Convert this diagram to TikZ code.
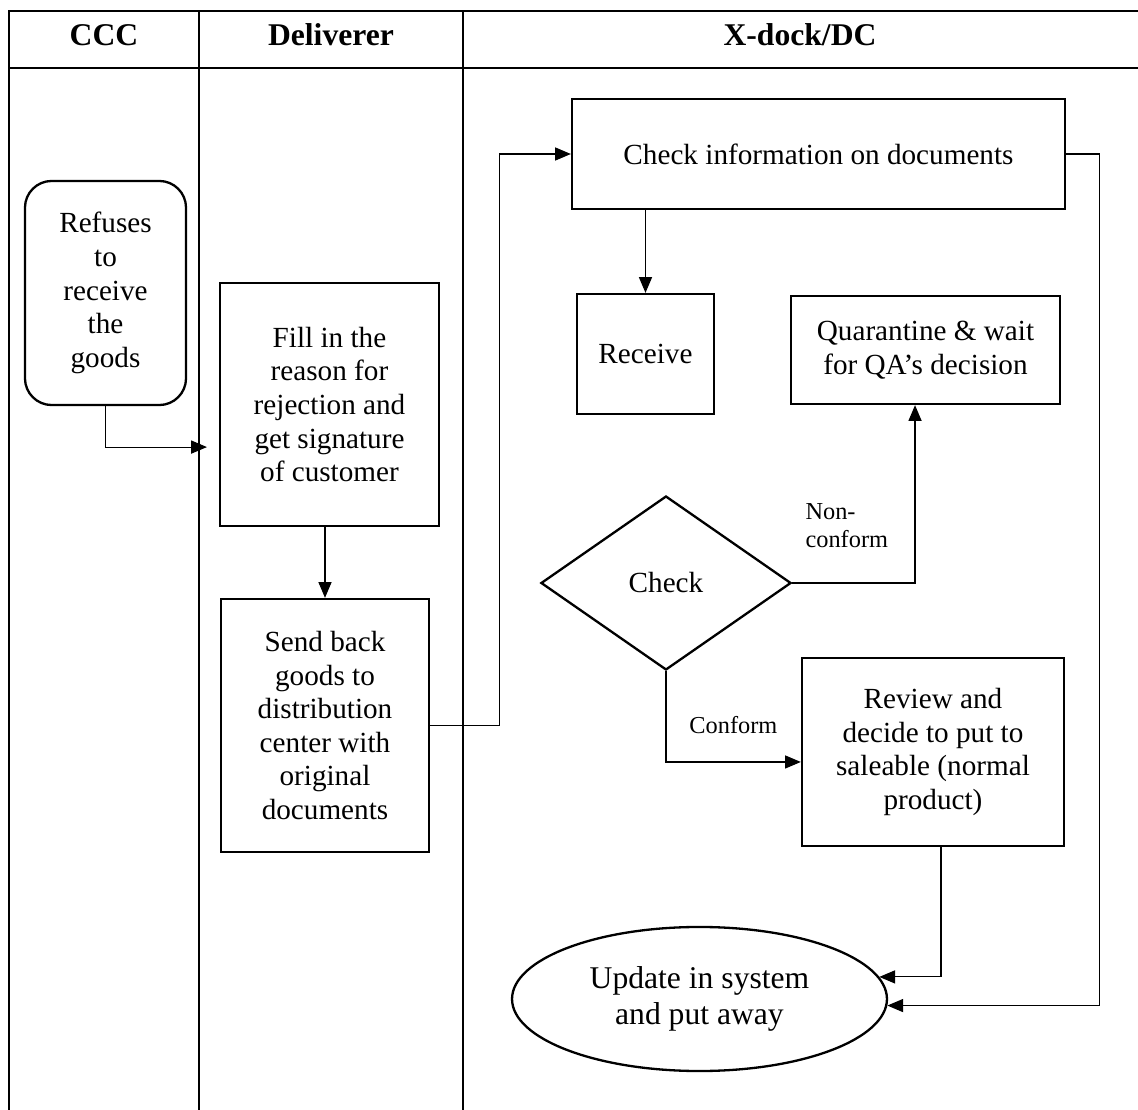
\documentclass[tikz,border=0pt]{standalone}
\usepackage{fontspec}
\setmainfont{Liberation Serif}
\usetikzlibrary{shapes.geometric, arrows.meta, positioning, calc}
\tikzstyle{lane} = [line width=0.8pt]
\tikzstyle{header} = [font=\fontsize{13}{15}\selectfont\bfseries, anchor=base]
\tikzstyle{process} = [rectangle, draw=black, line width=0.95pt, align=center, inner sep=0pt, font=\fontsize{12}{13.8}\selectfont]
\tikzstyle{decision} = [diamond, draw=black, line width=0.95pt, minimum width=102.8pt, minimum height=71.5pt, inner sep=0pt, font=\fontsize{12}{13.8}\selectfont]
\tikzstyle{terminal} = [ellipse, draw=black, line width=0.95pt, minimum width=154.1pt, minimum height=59.2pt, inner sep=0pt, align=center, font=\fontsize{13}{15}\selectfont]
\tikzstyle{lbl} = [font=\fontsize{10}{11.5}\selectfont, align=left]
\tikzstyle{arrow} = [line width=0.45pt, -{Triangle[length=6.5pt,width=5.4pt]}]

\begin{document}
\begin{tikzpicture}[x=0.411pt, y=-0.411pt]
    \useasboundingbox (0,0) rectangle (1138,1110);
    % Lanes
    \draw[lane] (9,1110) -- (9,11) -- (1138,11);
    \draw[lane] (9,68) -- (1138,68);
    \draw[lane] (199,11) -- (199,1110);
    \draw[lane] (463,11) -- (463,1110);
    \node[header] (ccc) at (104,46) {CCC};
    \node[header] (deliverer) at (331,46) {Deliverer};
    \node[header] (xdock) at (800,46) {X-dock/DC};
    
    % Steps
    \node[process, rounded corners=11pt, minimum width=66.2pt, minimum height=92.1pt] (refuse) at (105.5,293) {Refuses\\to\\receive\\the\\goods};
    \node[process, minimum width=90pt, minimum height=99.9pt] (fill) at (329.5,404.5) {Fill in the\\reason for\\rejection and\\get signature\\of customer};
    \node[process, minimum width=85.5pt, minimum height=104pt] (send) at (325,725.5) {Send back\\goods to\\distribution\\center with\\original\\documents};
    \node[process, minimum width=202.6pt, minimum height=45.2pt] (check) at (818.5,154) {Check information on documents};
    \node[process, minimum width=56.3pt, minimum height=49.3pt] (receive) at (645.5,354) {Receive};
    \node[process, minimum width=110.6pt, minimum height=44.4pt] (quarantine) at (925.5,350) {Quarantine \& wait\\for QA’s decision};
    \node[decision] (verify) at (666,583) {Check};
    \node[process, minimum width=107.7pt, minimum height=77.3pt] (review) at (933,752) {Review and\\decide to put to\\saleable (normal\\product)};
    \node[terminal] (update) at (699.5,999) {Update in system\\and put away};
    \node[lbl, anchor=west] (nonconform) at (797,526) {Non-\\conform};
    
    % Connections
    \draw[arrow] (refuse.south) |- ([xshift=-4.9pt, yshift=-17.5pt]fill.west);
    \draw[arrow] (fill.south -| send.north) -- (send.north);
    \draw[arrow] (send.east) -- ++(69,0) |- (check.west);
    \draw[arrow] (check.south -| receive.north) -- (receive.north);
    \draw[arrow] (check.east) -- ++(33,0) |- (update.-2);
    \draw[arrow] (verify.east) -| ([xshift=-4.3pt]quarantine.south);
    \draw[arrow] (verify.south) |- ([yshift=-4.1pt]review.west) node[lbl, pos=0.75, above=8pt] (conform) {Conform};
    \draw[arrow] ([xshift=3.3pt]review.south) |- (update.7);
    
\end{tikzpicture}
\end{document}
